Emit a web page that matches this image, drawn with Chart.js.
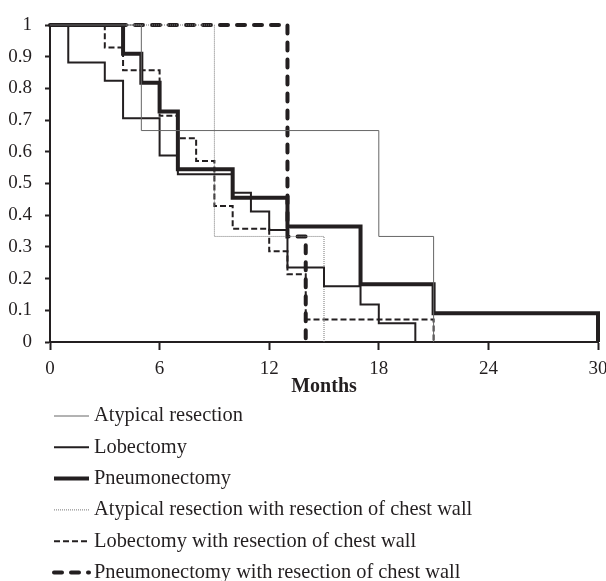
<!DOCTYPE html>
<html>
<head>
<meta charset="utf-8">
<script src="https://cdn.jsdelivr.net/npm/chart.js@4"></script>
<style>
  html, body { margin: 0; padding: 0; background: #fff; }
  #wrap { width: 606px; height: 581px; }
</style>
</head>
<body>
<div id="wrap"><canvas id="kmChart" width="606" height="581"></canvas></div>
<script>
// survival curves, months of event and survival after it
const atypicalMonths = [0, 5, 18, 21];
const atypicalSurv = [1, 0.667, 0.333, 0];

const lobectomyMonths = [0, 1, 3, 4, 6, 7, 10, 11, 12, 13, 15, 17, 18, 20];
const lobectomySurv = [1, 0.882, 0.824, 0.706, 0.588, 0.529, 0.471, 0.412, 0.353, 0.235, 0.176, 0.118, 0.059, 0];

const pneumoMonths = [0, 4, 5, 6, 7, 10, 13, 17, 21, 30];
const pneumoSurv = [1, 0.909, 0.818, 0.727, 0.545, 0.455, 0.364, 0.182, 0.091, 0];

const atypicalWallMonths = [0, 9, 15];
const atypicalWallSurv = [1, 0.333, 0];

const lobectomyWallMonths = [0, 3, 4, 6, 7, 8, 9, 10, 12, 13, 14, 21];
const lobectomyWallSurv = [1, 0.929, 0.857, 0.714, 0.643, 0.571, 0.429, 0.357, 0.286, 0.214, 0.071, 0];

const pneumoWallMonths = [0, 13, 14];
const pneumoWallSurv = [1, 0.333, 0];

const xTicks = [0, 6, 12, 18, 24, 30];

const toPoints = (xs, ys) => xs.map((x, i) => ({ x: x, y: ys[i] }));

const INK = '#231f20';
const FONT = 'Liberation Serif';

// legend drawn as a single column under the plot
const listLegend = {
  id: 'listLegend',
  afterDraw(chart) {
    const ctx = chart.ctx;
    ctx.save();
    chart.data.datasets.forEach((ds, i) => {
      const y = 416 + i * 31.3;
      ctx.beginPath();
      ctx.strokeStyle = ds.borderColor;
      ctx.lineWidth = ds.borderWidth;
      ctx.lineCap = ds.borderCapStyle || 'butt';
      ctx.setLineDash(ds.borderDash || []);
      ctx.moveTo(54, y);
      ctx.lineTo(89, y);
      ctx.stroke();
      ctx.setLineDash([]);
      ctx.fillStyle = INK;
      ctx.font = '20.4px "' + FONT + '"';
      ctx.textBaseline = 'middle';
      ctx.textAlign = 'left';
      ctx.fillText(ds.label, 94, y);
    });
    ctx.restore();
  }
};

new Chart(document.getElementById('kmChart'), {
  type: 'line',
  data: {
    datasets: [
      {
        label: 'Atypical resection',
        data: toPoints(atypicalMonths, atypicalSurv),
        borderColor: '#666666',
        borderWidth: 1
      },
      {
        label: 'Lobectomy',
        data: toPoints(lobectomyMonths, lobectomySurv),
        borderColor: INK,
        borderWidth: 2
      },
      {
        label: 'Pneumonectomy',
        data: toPoints(pneumoMonths, pneumoSurv),
        borderColor: INK,
        borderWidth: 4
      },
      {
        label: 'Atypical resection with resection of chest wall',
        data: toPoints(atypicalWallMonths, atypicalWallSurv),
        borderColor: '#777777',
        borderWidth: 1,
        borderDash: [1, 1]
      },
      {
        label: 'Lobectomy with resection of chest wall',
        data: toPoints(lobectomyWallMonths, lobectomyWallSurv),
        borderColor: INK,
        borderWidth: 2,
        borderDash: [6, 3]
      },
      {
        label: 'Pneumonectomy with resection of chest wall',
        data: toPoints(pneumoWallMonths, pneumoWallSurv),
        borderColor: INK,
        borderWidth: 4,
        borderDash: [8, 9],
        borderCapStyle: 'round'
      }
    ].map(ds => Object.assign({
      stepped: 'before',
      pointRadius: 0,
      pointHoverRadius: 0,
      fill: false,
      clip: false,
      tension: 0
    }, ds))
  },
  options: {
    responsive: false,
    animation: false,
    events: [],
    layout: { padding: { top: 25, right: 8, left: 0, bottom: 182 } },
    plugins: {
      legend: { display: false },
      tooltip: { enabled: false }
    },
    scales: {
      x: {
        type: 'linear',
        min: 0,
        max: 30,
        afterBuildTicks: axis => { axis.ticks = xTicks.map(v => ({ value: v })); },
        afterFit: axis => {
          axis.height = 57;
          axis.paddingLeft = 0;
          axis.paddingRight = 0;
        },
        grid: { drawOnChartArea: false, tickLength: 8, tickWidth: 2, tickColor: INK },
        border: { display: true, color: INK, width: 2 },
        ticks: { color: INK, font: { family: FONT, size: 19 }, padding: 8, maxRotation: 0 },
        title: {
          display: true,
          text: 'Months',
          color: INK,
          font: { family: FONT, size: 20, weight: 'bold' },
          padding: 0
        }
      },
      y: {
        min: 0,
        max: 1,
        afterFit: axis => {
          axis.width = 50;
          axis.paddingTop = 0;
          axis.paddingBottom = 0;
        },
        grid: { drawOnChartArea: false, tickLength: 5, tickWidth: 2, tickColor: INK },
        border: { display: true, color: INK, width: 2 },
        ticks: {
          stepSize: 0.1,
          color: INK,
          font: { family: FONT, size: 19 },
          padding: 13,
          callback: value => String(Number(value.toFixed(1)))
        }
      }
    }
  },
  plugins: [listLegend]
});
</script>
</body>
</html>
